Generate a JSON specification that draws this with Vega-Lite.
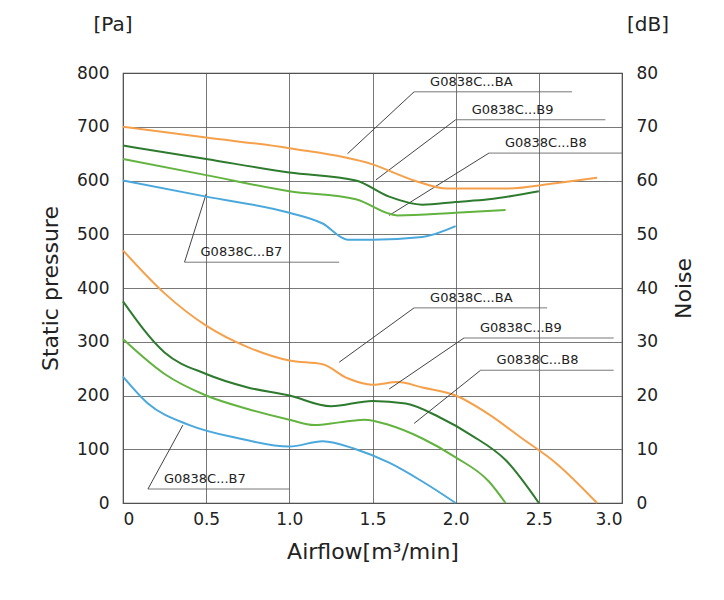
{
"$schema":"https://vega.github.io/schema/vega-lite/v6.json",
"autosize":{"type":"none"},
"padding":{"left":123,"top":73,"right":102,"bottom":97},
"width":499,"height":430,
"background":"white",
"config":{"view":{"stroke":"#444","strokeWidth":1.2},"font":"DejaVu Sans","axis":{"labelFont":"DejaVu Sans","titleFont":"DejaVu Sans","labelFontSize":17,"titleFontSize":22,"titleFontWeight":"normal","labelColor":"#222","titleColor":"#222","gridColor":"#555","gridWidth":0.8,"domain":false,"ticks":false}},
"datasets":{
"p":[
{"s":"BA","x":0,"y":470},{"s":"BA","x":0.25,"y":390},{"s":"BA","x":0.5,"y":330},{"s":"BA","x":0.75,"y":290},{"s":"BA","x":1.0,"y":265},{"s":"BA","x":1.2,"y":258},{"s":"BA","x":1.35,"y":232},{"s":"BA","x":1.5,"y":220},{"s":"BA","x":1.65,"y":225},{"s":"BA","x":1.8,"y":215},{"s":"BA","x":2.0,"y":200},{"s":"BA","x":2.2,"y":165},{"s":"BA","x":2.4,"y":120},{"s":"BA","x":2.6,"y":75},{"s":"BA","x":2.85,"y":0},
{"s":"B9","x":0,"y":375},{"s":"B9","x":0.25,"y":280},{"s":"B9","x":0.5,"y":240},{"s":"B9","x":0.75,"y":215},{"s":"B9","x":1.0,"y":200},{"s":"B9","x":1.25,"y":180},{"s":"B9","x":1.5,"y":190},{"s":"B9","x":1.7,"y":185},{"s":"B9","x":1.9,"y":160},{"s":"B9","x":2.1,"y":125},{"s":"B9","x":2.3,"y":80},{"s":"B9","x":2.5,"y":0},
{"s":"B8","x":0,"y":305},{"s":"B8","x":0.25,"y":240},{"s":"B8","x":0.5,"y":200},{"s":"B8","x":0.75,"y":175},{"s":"B8","x":1.0,"y":155},{"s":"B8","x":1.15,"y":145},{"s":"B8","x":1.3,"y":150},{"s":"B8","x":1.45,"y":155},{"s":"B8","x":1.6,"y":145},{"s":"B8","x":1.8,"y":120},{"s":"B8","x":2.0,"y":85},{"s":"B8","x":2.2,"y":40},{"s":"B8","x":2.3,"y":0},
{"s":"B7","x":0,"y":235},{"s":"B7","x":0.15,"y":185},{"s":"B7","x":0.4,"y":145},{"s":"B7","x":0.7,"y":120},{"s":"B7","x":1.0,"y":105},{"s":"B7","x":1.2,"y":115},{"s":"B7","x":1.4,"y":100},{"s":"B7","x":1.6,"y":75},{"s":"B7","x":1.8,"y":40},{"s":"B7","x":2.0,"y":0}
],
"n":[
{"s":"BA","x":0,"y":70},{"s":"BA","x":0.5,"y":68},{"s":"BA","x":1.0,"y":66},{"s":"BA","x":1.5,"y":63},{"s":"BA","x":1.75,"y":60},{"s":"BA","x":1.95,"y":58.5},{"s":"BA","x":2.3,"y":58.5},{"s":"BA","x":2.6,"y":59.5},{"s":"BA","x":2.85,"y":60.5},
{"s":"B9","x":0,"y":66.5},{"s":"B9","x":0.5,"y":64},{"s":"B9","x":1.0,"y":61.5},{"s":"B9","x":1.4,"y":60},{"s":"B9","x":1.6,"y":57},{"s":"B9","x":1.8,"y":55.5},{"s":"B9","x":2.0,"y":56},{"s":"B9","x":2.2,"y":56.5},{"s":"B9","x":2.5,"y":58},
{"s":"B8","x":0,"y":64},{"s":"B8","x":0.5,"y":61},{"s":"B8","x":1.0,"y":58},{"s":"B8","x":1.4,"y":56.5},{"s":"B8","x":1.65,"y":53.5},{"s":"B8","x":2.0,"y":54},{"s":"B8","x":2.3,"y":54.5},
{"s":"B7","x":0,"y":60},{"s":"B7","x":0.5,"y":57},{"s":"B7","x":1.0,"y":54},{"s":"B7","x":1.2,"y":52},{"s":"B7","x":1.35,"y":49},{"s":"B7","x":1.5,"y":49},{"s":"B7","x":1.8,"y":49.5},{"s":"B7","x":2.0,"y":51.5}
],
"lab":[
{"t":"G0838C...BA","x1":1.75,"x2":2.7,"y":765,"tx":1.35,"ty":650},
{"t":"G0838C...B9","x1":2.0,"x2":2.9,"y":713,"tx":1.52,"ty":601},
{"t":"G0838C...B8","x1":2.2,"x2":3.0,"y":651,"tx":1.6,"ty":535},
{"t":"G0838C...B7","x1":0.37,"x2":1.3,"y":448,"tx":0.5,"ty":575},
{"t":"G0838C...BA","x1":1.75,"x2":2.55,"y":363,"tx":1.3,"ty":262},
{"t":"G0838C...B9","x1":2.05,"x2":2.95,"y":307,"tx":1.6,"ty":212},
{"t":"G0838C...B8","x1":2.15,"x2":2.95,"y":247,"tx":1.75,"ty":148},
{"t":"G0838C...B7","x1":0.15,"x2":1.0,"y":26,"tx":0.36,"ty":145}
]
},
"layer":[
{"layer":[
{"data":{"name":"p"},"mark":{"type":"line","strokeWidth":2,"interpolate":"monotone"},
"encoding":{"x":{"field":"x","type":"quantitative","scale":{"domain":[0,3]},"axis":{"values":[0,0.5,1,1.5,2,2.5,3],"format":".1f","labelExpr":"datum.value==0?'0':datum.label","title":"Airflow[m³/min]","titlePadding":14,"labelPadding":8}},
"y":{"field":"y","type":"quantitative","scale":{"domain":[0,800]},"axis":{"values":[0,100,200,300,400,500,600,700,800],"title":"Static pressure","titlePadding":14,"labelPadding":14}},
"color":{"field":"s","type":"nominal","legend":null,"scale":{"domain":["BA","B9","B8","B7"],"range":["#f5a04a","#2e7a2e","#62b340","#4aa8dc"]}},"detail":{"field":"s"}}},
{"data":{"name":"lab"},"mark":{"type":"rule","color":"#555","strokeWidth":0.8},"encoding":{"x":{"field":"x1","type":"quantitative"},"x2":{"field":"x2"},"y":{"field":"y","type":"quantitative"}}},
{"data":{"name":"lab"},"mark":{"type":"rule","color":"#444","strokeWidth":1},"encoding":{"x":{"field":"x1","type":"quantitative"},"x2":{"field":"tx"},"y":{"field":"y","type":"quantitative"},"y2":{"field":"ty"}}},
{"data":{"name":"lab"},"mark":{"type":"text","align":"left","baseline":"bottom","dx":16,"dy":-3,"fontSize":13,"color":"#222"},"encoding":{"x":{"field":"x1","type":"quantitative"},"y":{"field":"y","type":"quantitative"},"text":{"field":"t"}}},
{"data":{"values":[{"x":0,"y":800,"t":"[Pa]"}]},"mark":{"type":"text","fontSize":20,"dx":-10,"dy":-48,"color":"#222"},"encoding":{"x":{"field":"x","type":"quantitative"},"y":{"field":"y","type":"quantitative"},"text":{"field":"t"}}},
{"data":{"values":[{"x":3,"y":800,"t":"[dB]"}]},"mark":{"type":"text","fontSize":20,"dx":26,"dy":-48,"color":"#222"},"encoding":{"x":{"field":"x","type":"quantitative"},"y":{"field":"y","type":"quantitative"},"text":{"field":"t"}}}
]},
{"data":{"name":"n"},"mark":{"type":"line","strokeWidth":2,"interpolate":"monotone"},
"encoding":{"x":{"field":"x","type":"quantitative"},
"y":{"field":"y","type":"quantitative","scale":{"domain":[0,80]},"axis":{"orient":"right","values":[0,10,20,30,40,50,60,70,80],"grid":false,"title":"Noise","titleAngle":270,"titleBaseline":"bottom","titlePadding":38,"labelPadding":14}},
"color":{"field":"s","type":"nominal","legend":null},"detail":{"field":"s"}}}
],
"resolve":{"scale":{"y":"independent"}}
}
